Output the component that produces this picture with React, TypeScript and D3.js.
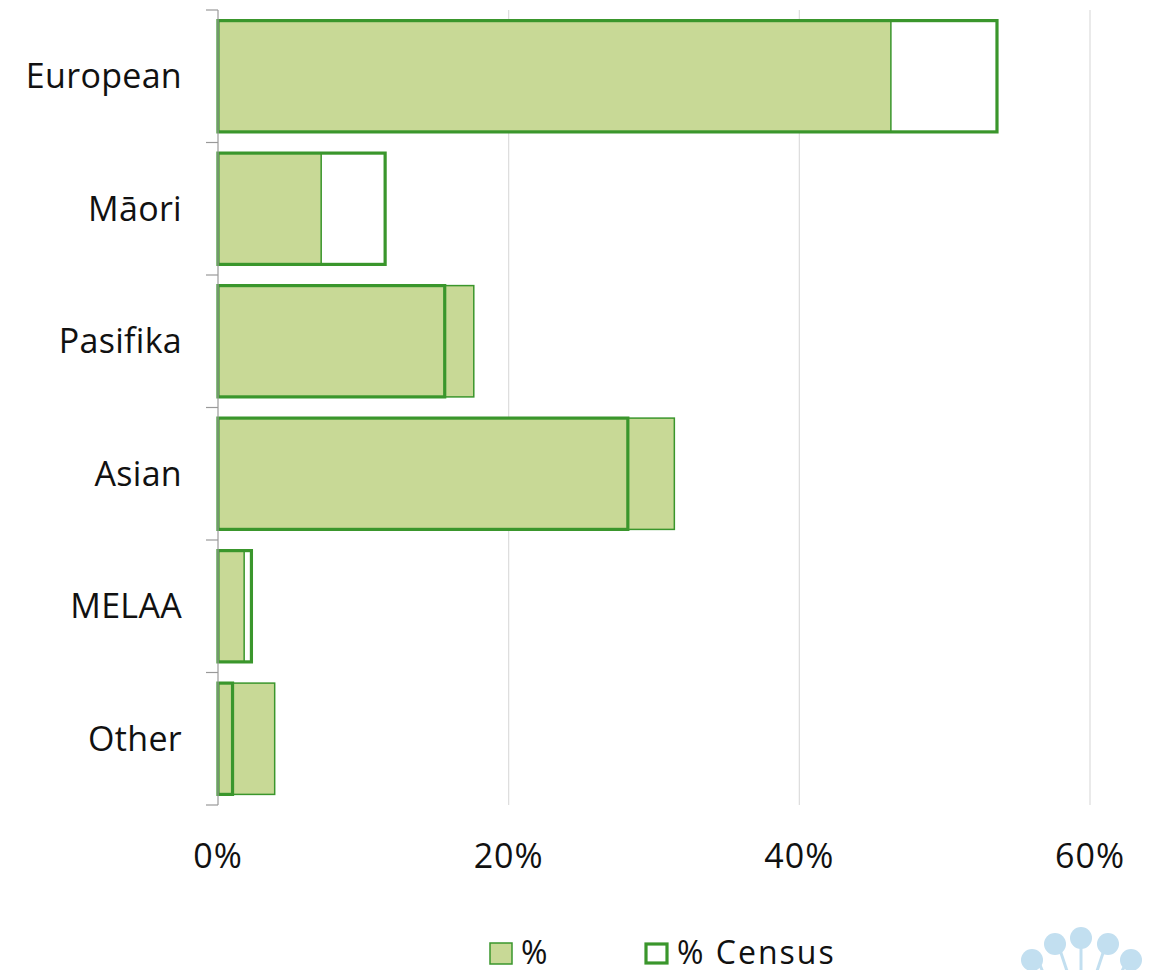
import React from "react";
import * as d3 from "d3";

const categories = ["European", "Māori", "Pasifika", "Asian", "MELAA", "Other"];
const pctValues = [46.3, 7.1, 17.6, 31.4, 1.8, 3.9];
const censusValues = [53.6, 11.5, 15.6, 28.2, 2.3, 1.0];
const xTicks = [0, 20, 40, 60];
const legendLabels = ["%", "% Census"];

const W = 1156;
const H = 970;
const FILL = "#c8d996";
const GREEN = "#3a962c";
const FONT = "'Open Sans', sans-serif";

export default function App() {
  const x = d3.scaleLinear().domain([0, 60]).range([218, 1090]);
  const y = d3
    .scaleBand<string>()
    .domain(categories)
    .range([10, 805])
    .paddingInner(0.16)
    .paddingOuter(0.08);
  const bounds = d3.range(categories.length + 1).map((i) => 10 + i * (795 / categories.length));

  return (
    <svg
      width={W}
      height={H}
      style={{ position: "absolute", left: 0, top: 0, display: "block" }}
      fontFamily={FONT}
    >
      <rect x={0} y={0} width={W} height={H} fill="#fff" />
      {xTicks.slice(1).map((t) => (
        <line key={t} x1={x(t)} x2={x(t)} y1={10} y2={805} stroke="#dcdcdc" strokeWidth={1.2} />
      ))}
      {xTicks.map((t) => (
        <text key={t} x={x(t)} y={868} textAnchor="middle" fontSize={34} letterSpacing={1} fill="#111">
          {t + "%"}
        </text>
      ))}
      {categories.map((c, i) => (
        <rect
          key={c}
          x={x(0)}
          y={y(c)!}
          width={x(pctValues[i]) - x(0)}
          height={y.bandwidth()}
          fill={FILL}
          stroke={GREEN}
          strokeWidth={1.5}
        />
      ))}
      {categories.map((c, i) => (
        <rect
          key={c}
          x={x(0)}
          y={y(c)!}
          width={x(censusValues[i]) - x(0)}
          height={y.bandwidth()}
          fill="none"
          stroke={GREEN}
          strokeWidth={3.2}
        />
      ))}
      <line x1={218} x2={218} y1={10} y2={805} stroke="#999" strokeWidth={1.2} />
      {bounds.map((b, i) => (
        <line key={i} x1={206} x2={218} y1={b} y2={b} stroke="#999" strokeWidth={1.2} />
      ))}
      {categories.map((c) => (
        <text
          key={c}
          x={182}
          y={y(c)! + y.bandwidth() / 2}
          dy="0.36em"
          textAnchor="end"
          fontSize={34}
          letterSpacing={0.3}
          fill="#111"
        >
          {c}
        </text>
      ))}
      <g>
        <rect x={490} y={943} width={22} height={21} fill={FILL} stroke={GREEN} strokeWidth={1.5} />
        <text x={521} y={964} fontSize={32} letterSpacing={2} fill="#111">
          {legendLabels[0]}
        </text>
        <rect x={646} y={944} width={21} height={19} fill="#fff" stroke={GREEN} strokeWidth={3.2} />
        <text x={677} y={964} fontSize={32} letterSpacing={2} fill="#111">
          {legendLabels[1]}
        </text>
      </g>
      <g fill="#c2dff0" stroke="#c2dff0">
        <line x1={1040} y1={965} x2={1050} y2={990} strokeWidth={3} />
        <line x1={1060} y1={950} x2={1070} y2={980} strokeWidth={3} />
        <line x1={1081} y1={945} x2={1081} y2={990} strokeWidth={3} />
        <line x1={1104} y1={950} x2={1094} y2={980} strokeWidth={3} />
        <line x1={1125} y1={965} x2={1113} y2={990} strokeWidth={3} />
        <circle cx={1032} cy={960} r={11} stroke="none" />
        <circle cx={1055} cy={944} r={11} stroke="none" />
        <circle cx={1081} cy={938} r={11} stroke="none" />
        <circle cx={1108} cy={944} r={11} stroke="none" />
        <circle cx={1131} cy={960} r={11} stroke="none" />
      </g>
    </svg>
  );
}
